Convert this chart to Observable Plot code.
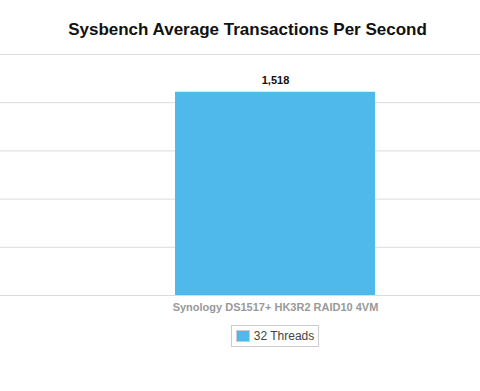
<!DOCTYPE html>
<html>
<head>
<meta charset="utf-8">
<script src="https://cdn.jsdelivr.net/npm/d3@7"></script>
<script src="https://cdn.jsdelivr.net/npm/@observablehq/plot@0.6"></script>
<style>
  html, body { margin: 0; padding: 0; background: #fff; }
  body { width: 480px; height: 391px; overflow: hidden; font-family: "Liberation Sans", Arial, sans-serif; }
  #title { height: 44px; line-height: 1; text-align: center; font-weight: bold; font-size: 17px; color: #111; padding-top: 21px; padding-left: 15px; box-sizing: border-box; }
  #chart svg { display: block; }
  #legend { display: flex; justify-content: center; margin-top: 0px; padding-left: 70px; box-sizing: border-box; width: 480px; }
  .lg { display: inline-flex; align-items: center; border: 1px solid #ccc; padding: 3px 4px 3px 4px; font-size: 12px; color: #444; }
  .sw { width: 12px; height: 10px; border: 1px solid #ccc; margin-right: 4px; }
</style>
</head>
<body>
<div id="title"></div>
<div id="chart"></div>
<div id="legend"></div>
<script>
const titleText = "Sysbench Average Transactions Per Second";
const categories = ["Synology DS1517+ HK3R2 RAID10 4VM"];
const seriesName = "32 Threads";
const values = [1518];
const yTicks = [0, 360, 720, 1080, 1440, 1800];
const barColor = "#4FB9EC";

document.getElementById("title").textContent = titleText;

const data = categories.map((c, i) => ({category: c, value: values[i]}));

const chart = Plot.plot({
  width: 480,
  height: 281,
  marginTop: 10,
  marginBottom: 30,
  marginLeft: 0,
  marginRight: 0,
  style: {fontFamily: "'Liberation Sans', Arial, sans-serif", background: "#fff"},
  x: {domain: categories, range: [70, 480], padding: 0.344, axis: null},
  y: {domain: [0, 1800], axis: null},
  marks: [
    Plot.ruleY(yTicks, {stroke: "#dcdcdc", strokeWidth: 1}),
    Plot.barY(data, {x: "category", y: "value", fill: barColor}),
    Plot.text(data, {x: "category", y: "value", text: d => d3.format(",")(d.value), lineAnchor: "bottom", dy: -8, fontSize: 11, fontWeight: "bold", fill: "#111"}),
    Plot.axisX({tickSize: 0, tickPadding: 8, fontSize: 11, fontWeight: "bold", color: "#999", label: null})
  ]
});
document.getElementById("chart").appendChild(chart);

const lg = document.getElementById("legend");
const item = document.createElement("div");
item.className = "lg";
const sw = document.createElement("div");
sw.className = "sw";
sw.style.background = barColor;
const tx = document.createElement("span");
tx.textContent = seriesName;
item.appendChild(sw);
item.appendChild(tx);
lg.appendChild(item);
</script>
</body>
</html>
